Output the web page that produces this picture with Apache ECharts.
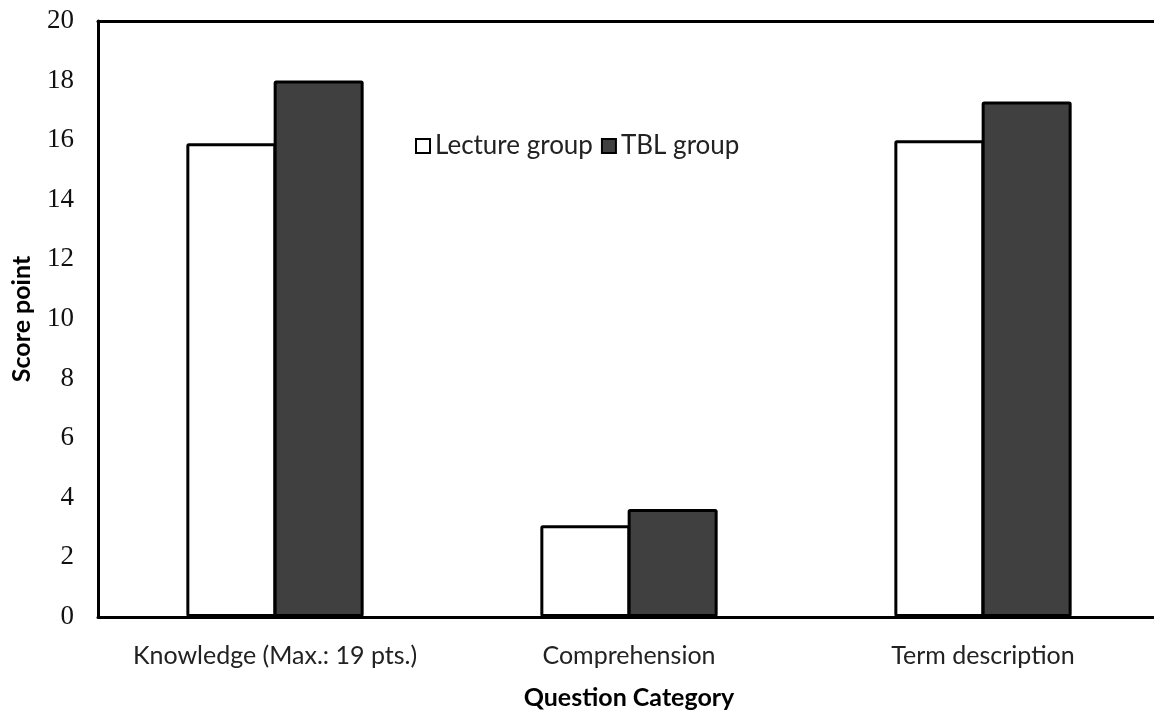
<!DOCTYPE html>
<html><head><meta charset="utf-8">
<script src="https://cdn.jsdelivr.net/npm/echarts@6/dist/echarts.min.js"></script>
<style>html,body{margin:0;padding:0;background:#fff}#c{width:1154px;height:711px}</style>
</head><body><div id="c"></div>
<script>
var categories = ['Knowledge (Max.: 19 pts.)', 'Comprehension', 'Term description'];
var lectureGroup = [15.9, 3.08, 16.0];
var tblGroup = [18.0, 3.62, 17.3];
var yTicks = {min: 0, max: 20, interval: 2};

var chart = echarts.init(document.getElementById('c'));
chart.setOption({
  animation: false,
  backgroundColor: '#fff',
  grid: {left: 98, right: -6, top: 21, bottom: 94, outerBoundsMode: 'none', containLabel: false},
  legend: {
    data: ['Lecture group', 'TBL group'],
    left: 410, top: 128,
    itemWidth: 14, itemHeight: 14, itemGap: 8,
    icon: 'rect',
    textStyle: {fontFamily: 'Lato', fontSize: 26, color: '#222', padding: [0, 0, 0, 0]}
  },
  xAxis: [{
    type: 'category', data: categories,
    axisLine: {lineStyle: {color: '#000', width: 3}},
    axisTick: {show: false},
    axisLabel: {fontFamily: 'Lato', fontSize: 25, color: '#222', margin: 26, interval: 0},
    name: 'Question Category', nameLocation: 'middle', nameGap: 68,
    nameTextStyle: {fontFamily: 'Lato', fontSize: 25, fontWeight: 'bold', color: '#000'}
  }, {
    type: 'category', data: categories, position: 'top',
    axisLine: {show: true, lineStyle: {color: '#000', width: 3}},
    axisTick: {show: false}, axisLabel: {show: false}, splitLine: {show: false}
  }],
  yAxis: {
    type: 'value', min: yTicks.min, max: yTicks.max, interval: yTicks.interval,
    axisLine: {show: true, lineStyle: {color: '#000', width: 3}},
    axisTick: {show: false},
    splitLine: {show: false},
    axisLabel: {fontFamily: 'Liberation Serif', fontSize: 27, color: '#111', margin: 24},
    name: 'Score point', nameLocation: 'middle', nameGap: 64,
    nameTextStyle: {fontFamily: 'Lato', fontSize: 25, fontWeight: 'bold', color: '#000'}
  },
  series: [
    {name: 'Lecture group', type: 'bar', data: lectureGroup, barWidth: 90, barGap: '-3%',
     itemStyle: {color: '#fff', borderColor: '#000', borderWidth: 3, borderRadius: 1}},
    {name: 'TBL group', type: 'bar', data: tblGroup, barWidth: 90, barGap: '-3%',
     itemStyle: {color: '#404040', borderColor: '#000', borderWidth: 3, borderRadius: 1}}
  ]
});
</script></body></html>
